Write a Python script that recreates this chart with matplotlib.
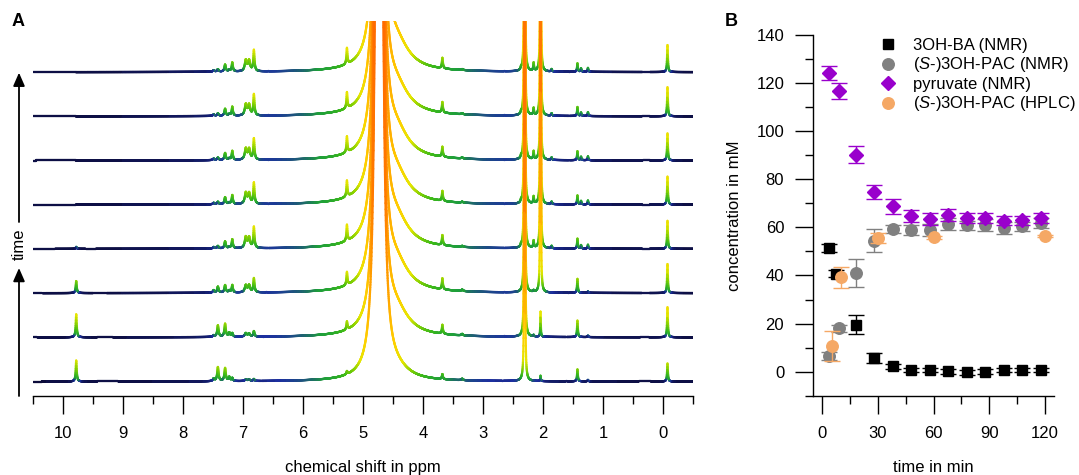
import numpy as np
import matplotlib
matplotlib.use('Agg')
import matplotlib.pyplot as plt
from matplotlib.collections import LineCollection
from matplotlib.colors import LinearSegmentedColormap, Normalize
from matplotlib.lines import Line2D
from matplotlib.ticker import MultipleLocator

plt.rcParams['font.family'] = ['Liberation Sans', 'DejaVu Sans']
plt.rcParams['mathtext.fontset'] = 'custom'
plt.rcParams['mathtext.it'] = 'Liberation Sans:italic'
plt.rcParams['mathtext.rm'] = 'Liberation Sans'

# ---------------- panel A: peak table of the 8 stacked 1H spectra ----------------
# heights are given for the spectra from bottom (first) to top (last)
peak_ppm = [-0.07, 1.255, 1.37, 1.43, 1.86, 2.045, 2.16, 2.31, 2.37, 3.35, 3.68,
            5.27, 6.82, 6.90, 6.955, 7.18, 7.23, 7.30, 7.42, 7.49, 9.78]
peak_hw = [0.008, 0.008, 0.008, 0.008, 0.008, 0.005, 0.008, 0.005, 0.008, 0.015, 0.01,
           0.01, 0.012, 0.02, 0.02, 0.012, 0.015, 0.014, 0.014, 0.015, 0.01]
peak_height = [
    [18, 30, 29, 28, 28, 27, 29, 27],          # -0.07 reference
    [1.5, 1.5, 1.5, 4, 4, 4, 4, 4],            # 1.255
    [0, 0, 0, 3.5, 3.5, 3.5, 3.5, 3.5],        # 1.37
    [12, 16.5, 14, 10, 9, 9, 9, 8.5],          # 1.43
    [0, 0, 0, 2.5, 2.5, 2.5, 2.5, 2.5],        # 1.86
    [5.5, 26, 400, 400, 400, 400, 400, 400],   # 2.045
    [0, 1.5, 1.5, 7, 7, 8, 7, 8],              # 2.16
    [600, 600, 600, 600, 600, 600, 600, 600],  # 2.31 pyruvate
    [0, 0, 0, 2, 2, 2, 2, 2],                  # 2.37
    [1.5, 1.5, 1.5, 1, 1, 1, 1, 1],            # 3.35
    [5, 9, 11, 10, 10, 10, 10.5, 10.5],        # 3.68
    [3, 8, 13, 16, 16, 16, 16, 16],            # 5.27
    [2, 5.5, 14, 21, 21, 21, 21, 21],          # 6.82
    [1.5, 3, 7, 10.5, 10.5, 10.5, 10.5, 10.5], # 6.90
    [1.5, 3.5, 7, 11, 11, 11, 11, 11],         # 6.955
    [3, 3.5, 7.5, 9, 9, 9, 9, 9],              # 7.18
    [4, 4, 2, 1.5, 1.5, 1.5, 1.5, 1.5],        # 7.23
    [13, 13, 7.5, 7, 7, 7, 7, 7],              # 7.30
    [14, 11.5, 6, 2.5, 2.5, 2.5, 2.5, 2.5],    # 7.42
    [2.5, 1.5, 2.5, 1.5, 1.5, 1.5, 1.5, 1.5],  # 7.49
    [21, 23, 12, 2, 0, 0, 0, 0],               # 9.78 aldehyde
]
water_ppm = 4.735
water_hw = 0.01
water_height = [20000, 18000, 18000, 18000, 18000, 18000, 18000, 18000]
shoulder_ppm = 4.45
shoulder_hw = 0.25
shoulder_height = [8, 22, 25, 25, 25, 25, 25, 25]
row_step = 44.2

# ---------------- panel B: concentrations ----------------
t_nmr = [3.5, 8.8, 18.3, 28, 38, 48, 58, 68, 78, 88, 98, 108, 118]
t_ba = [3.5, 7.5, 18.3, 28, 38, 48, 58, 68, 78, 88, 98, 108, 118]
ba_nmr = [51.4, 40.8, 19.6, 5.8, 2.3, 0.7, 0.7, 0.1, -0.2, 0.0, 0.7, 0.7, 0.7]
ba_err = [1.6, 1.5, 4.0, 2.0, 1.0, 1.0, 1.0, 1.0, 1.0, 1.0, 1.0, 1.0, 1.0]
pac_nmr = [6.5, 18.0, 41.1, 54.4, 59.3, 59.0, 58.8, 61.2, 60.8, 60.8, 59.8, 60.4, 61.8]
pac_err = [1.5, 1.5, 5.7, 4.8, 1.5, 2.0, 2.5, 2.5, 2.0, 2.5, 2.5, 2.0, 2.0]
pyr_nmr = [124.3, 116.7, 90.3, 74.8, 68.7, 64.8, 63.5, 65.0, 63.9, 64.0, 62.8, 62.9, 63.9]
pyr_err = [2.9, 3.3, 3.7, 3.0, 3.0, 2.5, 2.5, 2.5, 2.0, 2.0, 2.0, 2.0, 2.0]
t_hplc = [5, 10, 30, 60, 120]
pac_hplc = [10.7, 39.2, 55.5, 55.8, 56.4]
pac_hplc_err = [6.2, 4.5, 2.0, 0.6, 0.6]

labelsize = 12
W, H = 1079, 475


def lorentz(x, x0, hw, h):
    return h * hw**2 / ((x - x0)**2 + hw**2)


fig = plt.figure(figsize=(W / 100, H / 100), dpi=100)

# ======================= A =======================
axA = fig.add_axes([33 / W, 1 - 395.7 / H, (693.3 - 33) / W, (395.7 - 20.7) / H])
cmap = LinearSegmentedColormap.from_list('nmr', [
    (0.0, '#0b0b3a'), (0.8 / 360, '#1c2fa0'), (2.5 / 360, '#1e9e3c'),
    (6 / 360, '#3cba1a'), (12 / 360, '#8fd400'), (20 / 360, '#e6e600'),
    (40 / 360, '#ffd000'), (80 / 360, '#ffa800'), (180 / 360, '#ff7a00'),
    (1.0, '#ff6a00')], N=4096)
norm = Normalize(0, 360)

ppm = np.linspace(-0.5, 10.5, 5501)
n_rows = len(water_height)
for i in reversed(range(n_rows)):
    spec = lorentz(ppm, water_ppm, water_hw, water_height[i])
    spec += lorentz(ppm, shoulder_ppm, shoulder_hw, shoulder_height[i])
    for p, w, h in zip(peak_ppm, peak_hw, peak_height):
        spec += lorentz(ppm, p, w, h[i])
    pts = np.column_stack([ppm, spec + i * row_step])
    segs = np.stack([pts[:-1], pts[1:]], axis=1)
    lc = LineCollection(segs, cmap=cmap, norm=norm, linewidths=1.6,
                        capstyle='round')
    lc.set_array(np.minimum(spec[:-1], spec[1:]))
    axA.add_collection(lc)

axA.set_xlim(10.5, -0.5)
axA.set_ylim(-14.1, 360.9)
for s in ['top', 'right', 'left']:
    axA.spines[s].set_visible(False)
axA.spines['bottom'].set_linewidth(1.0)
axA.set_yticks([])
axA.xaxis.set_major_locator(MultipleLocator(1))
axA.xaxis.set_minor_locator(MultipleLocator(0.5))
axA.tick_params(axis='x', which='major', length=12.7, width=1.0, pad=9,
                labelsize=labelsize)
axA.tick_params(axis='x', which='minor', length=5.8, width=1.0)
axA.set_xlabel('chemical shift in ppm', fontsize=labelsize, labelpad=14)

# time arrow
arr = dict(arrowstyle='-|>,head_length=0.8,head_width=0.35', lw=1.3,
           color='k', shrinkA=0, shrinkB=0)
axA.annotate('', xy=(19, H - 268), xytext=(19, H - 396),
             xycoords='figure pixels', textcoords='figure pixels', arrowprops=arr)
axA.annotate('', xy=(19, H - 72.7), xytext=(19, H - 222),
             xycoords='figure pixels', textcoords='figure pixels', arrowprops=arr)
fig.text(19 / W, 1 - 244 / H, 'time', rotation=90, ha='center', va='center',
         fontsize=labelsize)

# ======================= B =======================
axB = fig.add_axes([813 / W, 1 - 395.7 / H, (1054 - 813) / W, (395.7 - 35) / H])
c_gray, c_pyr, c_hplc = '#808080', '#9900cc', '#f5a865'
eb = dict(elinewidth=1.0, capsize=6, capthick=1.0, linestyle='none')
axB.errorbar(t_nmr, pac_nmr, yerr=pac_err, marker='o', ms=8.3, color=c_gray,
             mec=c_gray, zorder=3, **eb)
axB.errorbar(t_ba, ba_nmr, yerr=ba_err, marker='s', ms=7.2, color='k',
             zorder=4, **eb)
axB.errorbar(t_nmr, pyr_nmr, yerr=pyr_err, marker='D', ms=7.0, color=c_pyr,
             zorder=5, **eb)
axB.errorbar(t_hplc, pac_hplc, yerr=pac_hplc_err, marker='o', ms=8.3,
             color=c_hplc, zorder=6, **eb)

axB.set_xlim(-5, 125)
axB.set_ylim(-10, 140)
for s in ['top', 'right']:
    axB.spines[s].set_visible(False)
axB.spines['bottom'].set_linewidth(1.0)
axB.spines['left'].set_linewidth(1.0)
axB.xaxis.set_major_locator(MultipleLocator(30))
axB.xaxis.set_minor_locator(MultipleLocator(15))
axB.yaxis.set_major_locator(MultipleLocator(20))
axB.yaxis.set_minor_locator(MultipleLocator(10))
axB.tick_params(which='major', length=12.7, width=1.0, labelsize=labelsize)
axB.tick_params(which='minor', length=5.8, width=1.0)
axB.tick_params(axis='x', pad=9)
axB.tick_params(axis='y', pad=8)
axB.set_xlabel('time in min', fontsize=labelsize, labelpad=14)
axB.set_ylabel('concentration in mM', fontsize=labelsize, labelpad=10)

handles = [
    Line2D([], [], marker='s', ms=7.2, color='k', ls='none'),
    Line2D([], [], marker='o', ms=8.3, color=c_gray, ls='none'),
    Line2D([], [], marker='D', ms=7.0, color=c_pyr, ls='none'),
    Line2D([], [], marker='o', ms=8.3, color=c_hplc, ls='none'),
]
labels = ['3OH-BA (NMR)', r'($\mathit{S}$-)3OH-PAC (NMR)', 'pyruvate (NMR)',
          r'($\mathit{S}$-)3OH-PAC (HPLC)']
axB.legend(handles, labels, loc='upper left', bbox_to_anchor=(0.277, 0.992),
           frameon=False, fontsize=labelsize, handlelength=1.0,
           handletextpad=1.0, labelspacing=0.15, borderpad=0, borderaxespad=0)

fig.text(18 / W, 1 - 22 / H, 'A', ha='center', va='center', fontsize=13,
         fontweight='bold')
fig.text(731 / W, 1 - 22 / H, 'B', ha='center', va='center', fontsize=13,
         fontweight='bold')

fig.savefig('out.png', dpi=100)
